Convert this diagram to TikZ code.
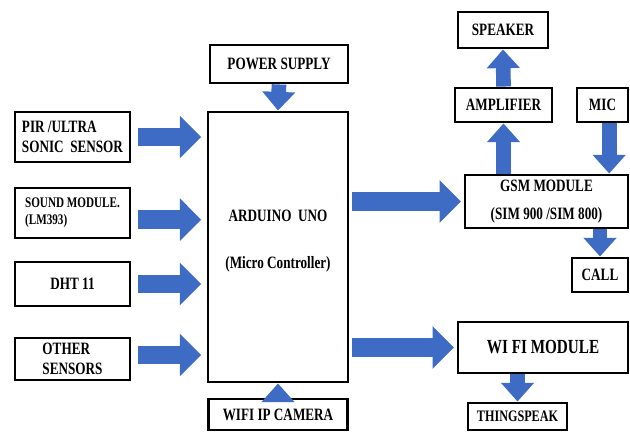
\documentclass[tikz,border=0pt]{standalone}
\usepackage{fontspec}
\setmainfont{Liberation Serif}[FakeStretch=0.76]
\usetikzlibrary{arrows.meta, positioning, calc}
\definecolor{arrowblue}{RGB}{62,108,196}

\begin{document}
\begin{tikzpicture}[x=0.75pt, y=-0.75pt,
  block/.style={rectangle, draw=black, line width=2.2pt, fill=white, align=center, inner sep=2pt, font=\fontsize{13}{15}\selectfont\bfseries},
  leftblock/.style={block, align=left},
  bigarrow/.style={draw=arrowblue, line width=14pt, -{Triangle[length=16pt, width=31pt]}},
  smallarrow/.style={draw=arrowblue, line width=11pt, -{Triangle[length=14pt, width=24pt]}}]
  \useasboundingbox (0,0) rectangle (630,432);

  % centre block
  \node[block, minimum width=105pt, minimum height=202.5pt] (ard) at (278,247) {ARDUINO~~UNO\\[20pt](Micro Controller)\\[-3pt]\mbox{}};
  \node[block, minimum width=103.5pt, minimum height=28.5pt] (pwr) at (279,64) {POWER SUPPLY};
  \node[block, minimum width=104pt, minimum height=23.25pt] (cam) at (278,414.5) {WIFI IP CAMERA};

  % sensors
  \node[leftblock, minimum width=86.25pt, minimum height=37.5pt] (pir) at (72.5,137) {PIR /ULTRA\\SONIC~~SENSOR};
  \node[leftblock, minimum width=86.25pt, minimum height=37.5pt, font=\fontsize{11}{13}\selectfont\bfseries] (snd) at (72.5,213) {SOUND MODULE.\\(LM393)};
  \node[block, minimum width=86.25pt, minimum height=33pt] (dht) at (72.5,284) {DHT 11};
  \node[leftblock, minimum width=86.25pt, minimum height=31.5pt] (oth) at (72.5,359) {OTHER\\SENSORS};

  % gsm side
  \node[block, minimum width=67.5pt, minimum height=27pt] (spk) at (503,30) {SPEAKER};
  \node[block, minimum width=72.75pt, minimum height=25.5pt] (amp) at (503.5,105) {AMPLIFIER};
  \node[block, minimum width=38.25pt, minimum height=25.5pt] (mic) at (602.5,105) {MIC};
  \node[block, minimum width=122.25pt, minimum height=39.75pt] (gsm) at (546.5,201.5) {GSM MODULE\\[6pt](SIM 900 /SIM 800)};
  \node[block, minimum width=42pt, minimum height=25.5pt] (call) at (600,275) {CALL};

  % wifi side
  \node[block, minimum width=127.5pt, minimum height=38.25pt, font=\fontsize{15}{17}\selectfont\bfseries] (wifi) at (543,347.5) {WI FI MODULE};
  \node[block, minimum width=74.25pt, minimum height=20.25pt, font=\fontsize{12}{14}\selectfont\bfseries] (thing) at (517.5,416.5) {THINGSPEAK};

  % inputs
  \draw[bigarrow, shorten <=5pt, shorten >=4pt] (pir.east) -- (pir.east -| ard.west);
  \draw[bigarrow, shorten <=5pt, shorten >=4pt] ([yshift=-5pt]snd.east) -- ([yshift=-5pt]snd.east -| ard.west);
  \draw[bigarrow, shorten <=5pt, shorten >=4pt] (dht.east) -- (dht.east -| ard.west);
  \draw[bigarrow, shorten <=5pt, shorten >=4pt] ([yshift=3pt]oth.east) -- ([yshift=3pt]oth.east -| ard.west);
  \draw[smallarrow] (pwr.south) -- (ard.north);
  \draw[smallarrow] (cam.north) -- (ard.south);

  % outputs
  \draw[bigarrow, shorten <=2pt, shorten >=2pt] (ard.east |- gsm.west) -- (gsm.west);
  \draw[bigarrow, shorten <=2pt, shorten >=2pt] (ard.east |- wifi.west) -- (wifi.west);
  \draw[smallarrow] (amp.north) -- (spk.south);
  \draw[smallarrow] (amp.south |- gsm.north) -- (amp.south);
  \draw[smallarrow] ([xshift=5pt]mic.south) -- ([xshift=5pt]mic.south |- gsm.north);
  \draw[smallarrow] (call.north |- gsm.south) -- (call.north);
  \draw[smallarrow] (thing.north |- wifi.south) -- (thing.north);
\end{tikzpicture}
\end{document}
